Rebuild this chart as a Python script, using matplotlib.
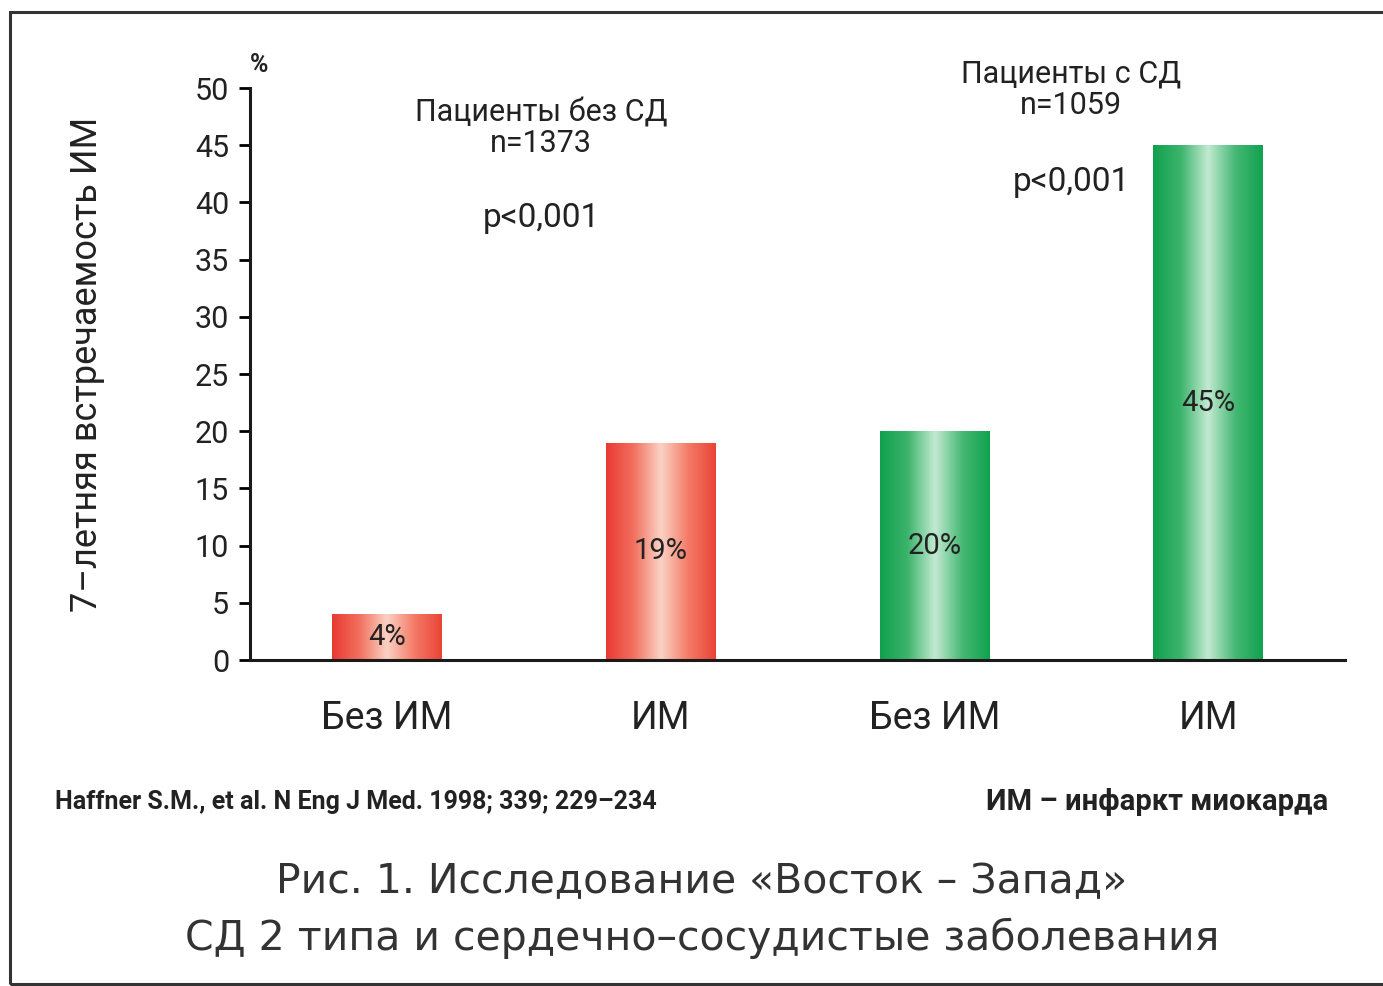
import numpy as np
import matplotlib
matplotlib.use("Agg")
import matplotlib.pyplot as plt
from matplotlib.colors import LinearSegmentedColormap
from matplotlib.patches import Rectangle

# 7-year MI incidence, East-West study
categories = ["Без ИМ", "ИМ", "Без ИМ", "ИМ"]
values = [4, 19, 20, 45]
groups = ["no_dm", "no_dm", "dm", "dm"]
group_notes = {
    "no_dm": ("Пациенты без СД\nn=1373", "p<0,001"),
    "dm": ("Пациенты с СД\nn=1059", "p<0,001"),
}
yticks = list(range(0, 55, 5))

narrow = ["Roboto", "DejaVu Sans"]
ink = "#222222"

red_map = LinearSegmentedColormap.from_list(
    "redbar", ["#e93a32", "#f2705e", "#fbd2c4", "#f47a66", "#ea4436"])
green_map = LinearSegmentedColormap.from_list(
    "greenbar", ["#10a04e", "#3cb46c", "#c2ead2", "#46b874", "#10a24f"])
cmaps = {"no_dm": red_map, "dm": green_map}

fig = plt.figure(figsize=(13.83, 9.86), dpi=100)
fig.patch.set_facecolor("white")

# frame around the whole figure
fig.add_artist(Rectangle((10 / 1383, 2 / 986), 1.02, 972 / 986,
                         transform=fig.transFigure, fill=False,
                         edgecolor="#333333", linewidth=2.2))

ax = fig.add_axes([250 / 1383, 326 / 986, 1095 / 1383, 572 / 986])
x = np.arange(len(values))
bars = ax.bar(x, values, width=0.40, color="none", edgecolor="none", zorder=2)

grad = np.linspace(0, 1, 256).reshape(1, -1)
for rect, g in zip(bars, groups):
    x0, y0 = rect.get_x(), rect.get_y()
    w, h = rect.get_width(), rect.get_height()
    im = ax.imshow(grad, cmap=cmaps[g], extent=[x0, x0 + w, y0, y0 + h],
                   aspect="auto", interpolation="bicubic", zorder=2)
    im.set_clip_path(rect)

for xi, v in zip(x, values):
    ax.text(xi, v / 2, f"{v}%", ha="center", va="center", fontsize=21,
            family=narrow, color=ink, zorder=3)

ax.set_xlim(-0.5, 3.5)
ax.set_ylim(0, 50)
ax.set_yticks(yticks)
ax.set_xticks(x)
ax.set_xticklabels(categories)
for lab in ax.get_yticklabels():
    lab.set_family(narrow)
    lab.set_fontsize(22)
    lab.set_color(ink)
for lab in ax.get_xticklabels():
    lab.set_family(narrow)
    lab.set_fontsize(27)
    lab.set_color(ink)
ax.tick_params(axis="y", length=8, width=2, pad=7)
ax.tick_params(axis="x", length=0, pad=29)
for side in ["top", "right"]:
    ax.spines[side].set_visible(False)
for side in ["left", "bottom"]:
    ax.spines[side].set_linewidth(2.2)
    ax.spines[side].set_color("#1a1a1a")

ax.set_ylabel("7–летняя встречаемость ИМ", family=narrow, fontsize=26,
              color=ink, va="center")
ax.yaxis.set_label_coords(-0.149, 0.516)
ax.text(0.0, 1.02, "%", transform=ax.transAxes, ha="left", va="bottom",
        fontsize=18, family=narrow, fontweight="bold", color=ink)

# group annotations
ax.text(0.563, 49.2, group_notes["no_dm"][0], ha="center", va="top",
        fontsize=22, family=narrow, color=ink, linespacing=1.1)
ax.text(0.563, 38.6, group_notes["no_dm"][1], ha="center", va="center",
        fontsize=24, family=narrow, color=ink)
ax.text(2.5, 52.5, group_notes["dm"][0], ha="center", va="top",
        fontsize=22, family=narrow, color=ink, linespacing=1.1)
ax.text(2.5, 41.8, group_notes["dm"][1], ha="center", va="center",
        fontsize=24, family=narrow, color=ink)

# footnotes and caption
fig.text(55 / 1383, 1 - 802 / 986,
         "Haffner S.M., et al. N Eng J Med. 1998; 339; 229–234",
         ha="left", va="center", fontsize=18, family=narrow,
         fontweight="bold", color=ink)
fig.text(1328 / 1383, 1 - 802 / 986, "ИМ – инфаркт миокарда",
         ha="right", va="center", fontsize=21, family=narrow,
         fontweight="bold", color=ink)
caption = ["Рис. 1. Исследование «Восток – Запад»",
           "СД 2 типа и сердечно–сосудистые заболевания"]
fig.text(702 / 1383, 1 - 882 / 986, caption[0], ha="center", va="center",
         fontsize=29.5, family="DejaVu Sans", color="#333333")
fig.text(702 / 1383, 1 - 938 / 986, caption[1], ha="center", va="center",
         fontsize=29.5, family="DejaVu Sans", color="#333333")

fig.savefig("out.png", dpi=100, facecolor="white")
